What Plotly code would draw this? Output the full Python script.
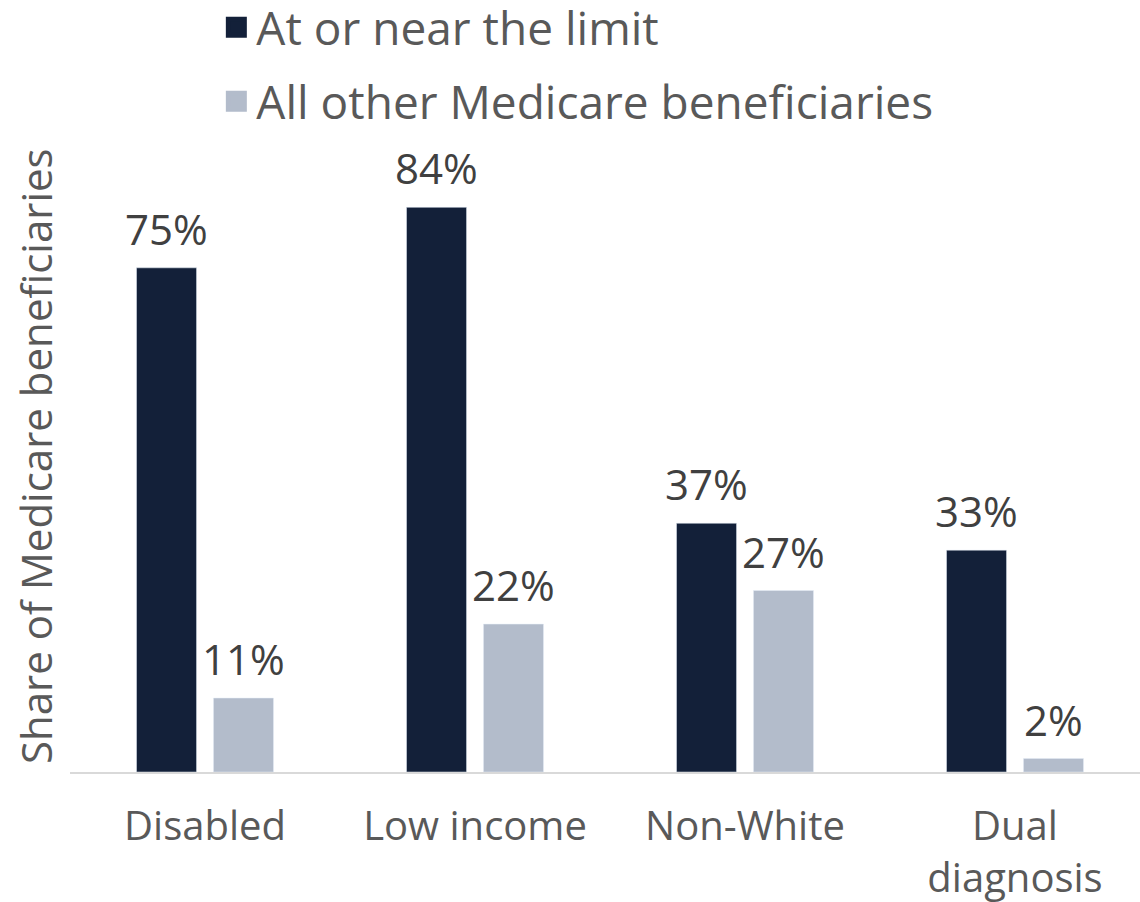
import plotly.graph_objects as go

categories = ["Disabled", "Low income", "Non-White", "Dual<br>diagnosis"]
series_names = ["At or near the limit", "All other Medicare beneficiaries"]
near_limit = [75, 84, 37, 33]
all_other = [11, 22, 27, 2]
y_title = "Share of Medicare beneficiaries"

colors = ["#132039", "#b3bccb"]
font_family = "'Open Sans', Lato, sans-serif"

fig = go.Figure()
bar_offsets = [-38.5, 38.5]
annotations = []
for name, vals, col, off in zip(series_names, [near_limit, all_other], colors, bar_offsets):
    fig.add_trace(go.Bar(
        x=categories, y=vals, name=name, marker_color=col,
        showlegend=False,
    ))
    for c, v in zip(categories, vals):
        annotations.append(dict(
            x=c, y=v, xref="x", yref="y", text=f"{v}%", showarrow=False,
            xshift=off, yshift=9, yanchor="bottom",
            font=dict(size=42, color="#404040", family=font_family),
        ))
    # legend entry with larger square symbol
    fig.add_trace(go.Scatter(
        x=[None], y=[None], mode="markers", name=name, legendgroup=name,
        marker=dict(symbol="square", size=16, color=col, line=dict(color=col, width=5)),
        showlegend=True,
    ))

# y-axis title (placed slightly above plot centre, as in the reference)
annotations.append(dict(
    text=y_title, xref="paper", yref="paper", x=-0.032, y=0.523,
    xanchor="center", yanchor="middle", textangle=-90, showarrow=False,
    font=dict(size=42, color="#595959", family=font_family),
))

fig.update_layout(
    width=1150, height=902,
    margin=dict(l=70, r=0, t=167, b=130, autoexpand=False),
    paper_bgcolor="white", plot_bgcolor="white",
    barmode="group", bargap=0.43, bargroupgap=0.22,
    font=dict(family=font_family, color="#595959"),
    annotations=annotations,
    legend=dict(
        x=0.1355, y=1.291, xanchor="left", yanchor="top",
        font=dict(size=46, color="#595959", family=font_family),
        traceorder="grouped", tracegroupgap=11,
        bgcolor="rgba(0,0,0,0)",
    ),
    xaxis=dict(
        showline=True, linecolor="#d9d9d9", linewidth=2,
        showgrid=False, ticks="outside", ticklen=0,
        ticklabelstandoff=18, automargin=False,
        tickfont=dict(size=40, color="#595959", family=font_family),
    ),
    yaxis=dict(
        range=[0, 90], showgrid=False, showticklabels=False, zeroline=False,
        automargin=False,
    ),
)

fig.write_html(
    "out.html",
    config={"displayModeBar": False},
    post_script="document.body.style.margin='0';document.body.style.overflow='hidden';",
)
